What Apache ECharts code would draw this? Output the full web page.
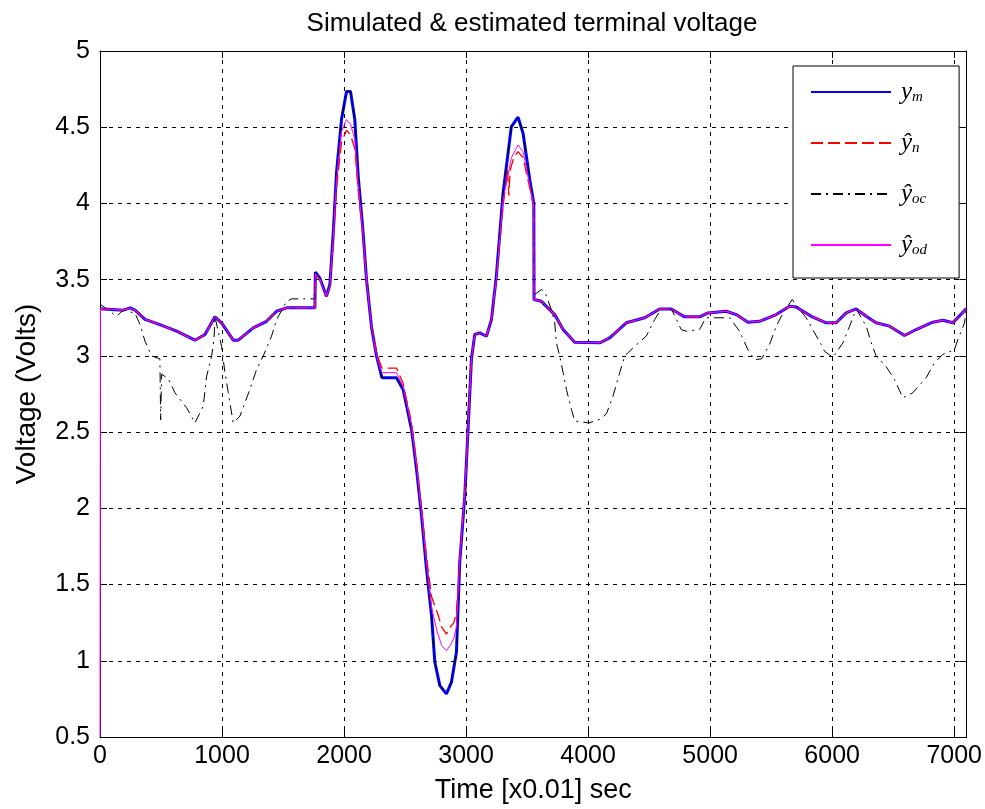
<!DOCTYPE html>
<html>
<head>
<meta charset="utf-8">
<script src="https://cdn.jsdelivr.net/npm/echarts@6/dist/echarts.min.js"></script>
<style>
html,body{margin:0;padding:0;background:#fff;}
#chart{width:985px;height:809px;}
</style>
</head>
<body>
<div id="chart"></div>
<script>
// ---- data (time in x0.01 s, voltage in V) ----
const ymT = [0,14,191,246,287,369,491,628,778,860,942,996,1092,1133,1256,1365,1447,1529,1761,1765,1802,1856,1884,1911,1938,1979,2020,2053,2088,2116,2156,2184,2225,2266,2310,2430,2484,2553,2594,2635,2676,2717,2744,2785,2839,2880,2921,2948,2989,3016,3044,3071,3112,3167,3208,3248,3303,3371,3426,3467,3522,3555,3557,3617,3726,3795,3890,4095,4177,4313,4464,4586,4682,4791,4914,4982,5132,5214,5310,5405,5542,5651,5706,5829,5951,6033,6115,6197,6279,6360,6470,6593,6688,6825,6907,6989,7100];
const ymV = [3.31,3.315,3.30,3.315,3.30,3.24,3.205,3.162,3.103,3.14,3.256,3.217,3.103,3.103,3.184,3.227,3.293,3.315,3.315,3.55,3.51,3.39,3.47,3.80,4.20,4.55,4.735,4.735,4.55,4.18,3.81,3.50,3.19,3.00,2.857,2.857,2.78,2.518,2.256,1.95,1.60,1.295,0.99,0.837,0.783,0.86,1.056,1.645,2.08,2.518,2.98,3.14,3.151,3.129,3.238,3.522,4.068,4.504,4.566,4.46,4.155,4.0,3.37,3.358,3.271,3.173,3.09,3.086,3.118,3.217,3.25,3.308,3.308,3.256,3.256,3.282,3.293,3.271,3.221,3.227,3.271,3.325,3.32,3.26,3.217,3.217,3.282,3.308,3.26,3.217,3.195,3.134,3.173,3.221,3.234,3.217,3.31];

const ynT = [0,14,191,246,287,369,491,628,778,860,942,996,1092,1133,1256,1365,1447,1529,1761,1765,1802,1856,1884,1911,1938,1979,2020,2053,2088,2116,2156,2184,2225,2266,2310,2430,2484,2553,2594,2635,2676,2717,2771,2800,2839,2870,2900,2921,2948,2989,3016,3044,3071,3112,3167,3208,3248,3303,3340,3350,3362,3390,3426,3467,3522,3555,3557,3617,3726,3795,3890,4095,4177,4313,4464,4586,4682,4791,4914,4982,5132,5214,5310,5405,5542,5651,5706,5829,5951,6033,6115,6197,6279,6360,6470,6593,6688,6825,6907,6989,7100];
const ynV = [3.31,3.315,3.30,3.315,3.30,3.24,3.205,3.162,3.103,3.14,3.256,3.217,3.103,3.103,3.184,3.227,3.293,3.315,3.315,3.53,3.50,3.39,3.45,3.75,4.10,4.40,4.48,4.45,4.36,4.08,3.78,3.50,3.20,3.02,2.92,2.92,2.82,2.56,2.30,2.00,1.68,1.42,1.30,1.22,1.175,1.22,1.25,1.32,1.66,2.10,2.53,2.98,3.14,3.151,3.129,3.238,3.50,3.98,4.22,4.05,4.22,4.30,4.34,4.30,4.10,3.97,3.37,3.358,3.271,3.173,3.09,3.086,3.118,3.217,3.25,3.308,3.308,3.256,3.256,3.282,3.293,3.271,3.221,3.227,3.271,3.325,3.32,3.26,3.217,3.217,3.282,3.308,3.26,3.217,3.195,3.134,3.173,3.221,3.234,3.217,3.31];

const yocT = [0,137,191,287,328,369,423,491,497,505,560,614,710,778,846,874,915,934,942,996,1024,1051,1092,1147,1228,1283,1338,1406,1447,1529,1570,1761,1765,1802,1856,1884,1911,1938,1979,2020,2053,2088,2116,2156,2184,2225,2266,2310,2430,2484,2553,2594,2635,2676,2717,2744,2785,2839,2880,2921,2948,2989,3016,3044,3071,3112,3167,3208,3248,3303,3371,3426,3467,3522,3555,3557,3617,3645,3700,3726,3740,3767,3795,3822,3863,3890,4007,4095,4150,4204,4259,4300,4368,4477,4545,4600,4682,4763,4804,4914,4964,5160,5241,5310,5364,5420,5487,5542,5597,5673,5706,5787,5856,5910,5938,6006,6088,6143,6197,6279,6320,6360,6442,6511,6579,6661,6770,6839,6907,7002,7030,7085,7100];
const yocV = [3.34,3.26,3.30,3.28,3.205,3.096,3.0,2.98,2.58,2.88,2.85,2.758,2.66,2.56,2.67,2.867,3.0,3.107,3.256,3.064,2.89,2.76,2.56,2.605,2.78,2.91,3.0,3.13,3.238,3.358,3.374,3.374,3.55,3.51,3.39,3.47,3.80,4.20,4.55,4.735,4.735,4.55,4.18,3.81,3.50,3.19,3.00,2.857,2.857,2.78,2.518,2.256,1.95,1.60,1.295,0.99,0.837,0.783,0.86,1.056,1.645,2.08,2.518,2.98,3.14,3.151,3.129,3.238,3.522,4.068,4.504,4.566,4.46,4.155,4.0,3.40,3.435,3.42,3.30,3.217,3.086,3.0,2.89,2.78,2.65,2.573,2.56,2.584,2.62,2.736,2.89,3.0,3.053,3.13,3.238,3.308,3.308,3.173,3.162,3.173,3.25,3.25,3.162,3.04,2.976,2.98,3.075,3.195,3.28,3.37,3.33,3.25,3.151,3.075,3.03,2.99,3.086,3.195,3.308,3.195,3.086,3.0,2.93,2.845,2.725,2.758,2.857,2.955,3.01,3.04,3.107,3.217,3.31];

const yodT = [0,3,191,246,287,369,491,628,778,860,942,996,1092,1133,1256,1365,1447,1529,1761,1765,1802,1856,1884,1911,1938,1979,2020,2053,2088,2116,2156,2184,2225,2266,2310,2430,2484,2553,2594,2635,2676,2717,2760,2800,2839,2870,2900,2921,2948,2989,3016,3044,3071,3112,3167,3208,3248,3303,3371,3426,3467,3522,3555,3557,3617,3726,3795,3890,4095,4177,4313,4464,4586,4682,4791,4914,4982,5132,5214,5310,5405,5542,5651,5706,5829,5951,6033,6115,6197,6279,6360,6470,6593,6688,6825,6907,6989,7100];
const yodV = [0.5,3.31,3.30,3.315,3.30,3.24,3.205,3.162,3.103,3.14,3.256,3.217,3.103,3.103,3.184,3.227,3.293,3.315,3.315,3.54,3.50,3.39,3.46,3.78,4.15,4.47,4.55,4.52,4.42,4.12,3.80,3.50,3.19,3.00,2.89,2.89,2.80,2.54,2.28,1.97,1.64,1.35,1.20,1.10,1.066,1.10,1.15,1.22,1.66,2.10,2.52,2.98,3.14,3.151,3.129,3.238,3.51,4.02,4.30,4.384,4.34,4.12,3.98,3.37,3.358,3.271,3.173,3.09,3.086,3.118,3.217,3.25,3.308,3.308,3.256,3.256,3.282,3.293,3.271,3.221,3.227,3.271,3.325,3.32,3.26,3.217,3.217,3.282,3.308,3.26,3.217,3.195,3.134,3.173,3.221,3.234,3.217,3.31];

const seriesNames = ['ym', 'yn', 'yoc', 'yod'];
const legendLabels = {
  ym: '{a|y}{b|m}',
  yn: '{a|ŷ}{b|n}',
  yoc: '{a|ŷ}{b|oc}',
  yod: '{a|ŷ}{b|od}'
};
const xTicks = {min: 0, max: 7100, interval: 1000};
const yTicks = {min: 0.5, max: 5, interval: 0.5};

function zip(t, v) {
  const n = Math.min(t.length, v.length);
  const out = [];
  for (let i = 0; i < n; i++) out.push([t[i], v[i]]);
  return out;
}

const FONT = '"Liberation Sans", Arial, sans-serif';
const chart = echarts.init(document.getElementById('chart'), null, {renderer: 'canvas'});

const gridDash = {color: '#000', width: 1, type: [4, 5]};

const option = {
  animation: false,
  backgroundColor: '#fff',
  title: {
    text: 'Simulated & estimated terminal voltage',
    left: 527,
    top: 6,
    textAlign: 'center',
    textStyle: {fontFamily: FONT, fontSize: 26, fontWeight: 'normal', color: '#000'}
  },
  grid: {left: 100, right: 17, top: 51, bottom: 71, containLabel: false},
  legend: {
    orient: 'vertical',
    left: 793,
    top: 66,
    padding: [14, 32, 20, 17],
    itemWidth: 80,
    itemHeight: 20,
    itemGap: 26,
    backgroundColor: '#fff',
    borderColor: '#000',
    borderWidth: 1,
    selectedMode: false,
    data: seriesNames,
    itemStyle: {opacity: 0, borderWidth: 0},
    lineStyle: {opacity: 1},
    formatter: function (name) { return legendLabels[name]; },
    textStyle: {
      rich: {
        a: {fontFamily: '"Liberation Serif", serif', fontStyle: 'italic', fontSize: 25, color: '#000', verticalAlign: 'bottom', lineHeight: 26, padding: [0, 0, 0, 5]},
        b: {fontFamily: '"Liberation Serif", serif', fontStyle: 'italic', fontSize: 15, color: '#000', verticalAlign: 'bottom', lineHeight: 12}
      }
    }
  },
  xAxis: [
    {
      type: 'value', position: 'bottom',
      min: xTicks.min, max: xTicks.max, interval: xTicks.interval,
      name: 'Time [x0.01] sec', nameLocation: 'middle', nameGap: 40,
      nameTextStyle: {fontFamily: FONT, fontSize: 27, color: '#000'},
      axisLine: {show: true, onZero: false, lineStyle: {color: '#000', width: 1}},
      axisTick: {show: true, inside: true, length: 7, lineStyle: {color: '#000', width: 1}},
      axisLabel: {fontFamily: FONT, fontSize: 25, color: '#000', margin: 7, showMaxLabel: false,
        formatter: function (v) { return String(v); }},
      splitLine: {show: true, lineStyle: gridDash}
    },
    {
      type: 'value', position: 'top',
      min: xTicks.min, max: xTicks.max, interval: xTicks.interval,
      axisLine: {show: true, onZero: false, lineStyle: {color: '#000', width: 1}},
      axisTick: {show: true, inside: true, length: 7, lineStyle: {color: '#000', width: 1}},
      axisLabel: {show: false},
      splitLine: {show: false}
    }
  ],
  yAxis: [
    {
      type: 'value', position: 'left',
      min: yTicks.min, max: yTicks.max, interval: yTicks.interval,
      name: 'Voltage (Volts)', nameLocation: 'middle', nameGap: 59,
      nameTextStyle: {fontFamily: FONT, fontSize: 28, color: '#000'},
      axisLine: {show: true, onZero: false, lineStyle: {color: '#000', width: 1}},
      axisTick: {show: true, inside: true, length: 7, lineStyle: {color: '#000', width: 1}},
      axisLabel: {fontFamily: FONT, fontSize: 25, color: '#000', margin: 10},
      splitLine: {show: true, lineStyle: gridDash}
    },
    {
      type: 'value', position: 'right',
      min: yTicks.min, max: yTicks.max, interval: yTicks.interval,
      axisLine: {show: true, onZero: false, lineStyle: {color: '#000', width: 1}},
      axisTick: {show: true, inside: true, length: 7, lineStyle: {color: '#000', width: 1}},
      axisLabel: {show: false},
      splitLine: {show: false}
    }
  ],
  series: [
    {
      name: 'ym', type: 'line', xAxisIndex: 0, yAxisIndex: 0,
      data: zip(ymT, ymV), symbol: 'none', showSymbol: false,
      lineStyle: {color: '#0000ff', width: 3}, itemStyle: {color: '#0000ff'}, z: 2
    },
    {
      name: 'yn', type: 'line', xAxisIndex: 0, yAxisIndex: 0,
      data: zip(ynT, ynV), symbol: 'none', showSymbol: false,
      lineStyle: {color: '#ff0000', width: 1.3, type: [12, 5]}, itemStyle: {color: '#ff0000'}, z: 3
    },
    {
      name: 'yoc', type: 'line', xAxisIndex: 0, yAxisIndex: 0,
      data: zip(yocT, yocV), symbol: 'none', showSymbol: false,
      lineStyle: {color: '#000000', width: 1, type: [10, 5, 2, 5]}, itemStyle: {color: '#000000'}, z: 4
    },
    {
      name: 'yod', type: 'line', xAxisIndex: 0, yAxisIndex: 0,
      data: zip(yodT, yodV), symbol: 'none', showSymbol: false,
      lineStyle: {color: '#ff00ff', width: 1}, itemStyle: {color: '#ff00ff'}, z: 5
    }
  ]
};
chart.setOption(option);
</script>
</body>
</html>
